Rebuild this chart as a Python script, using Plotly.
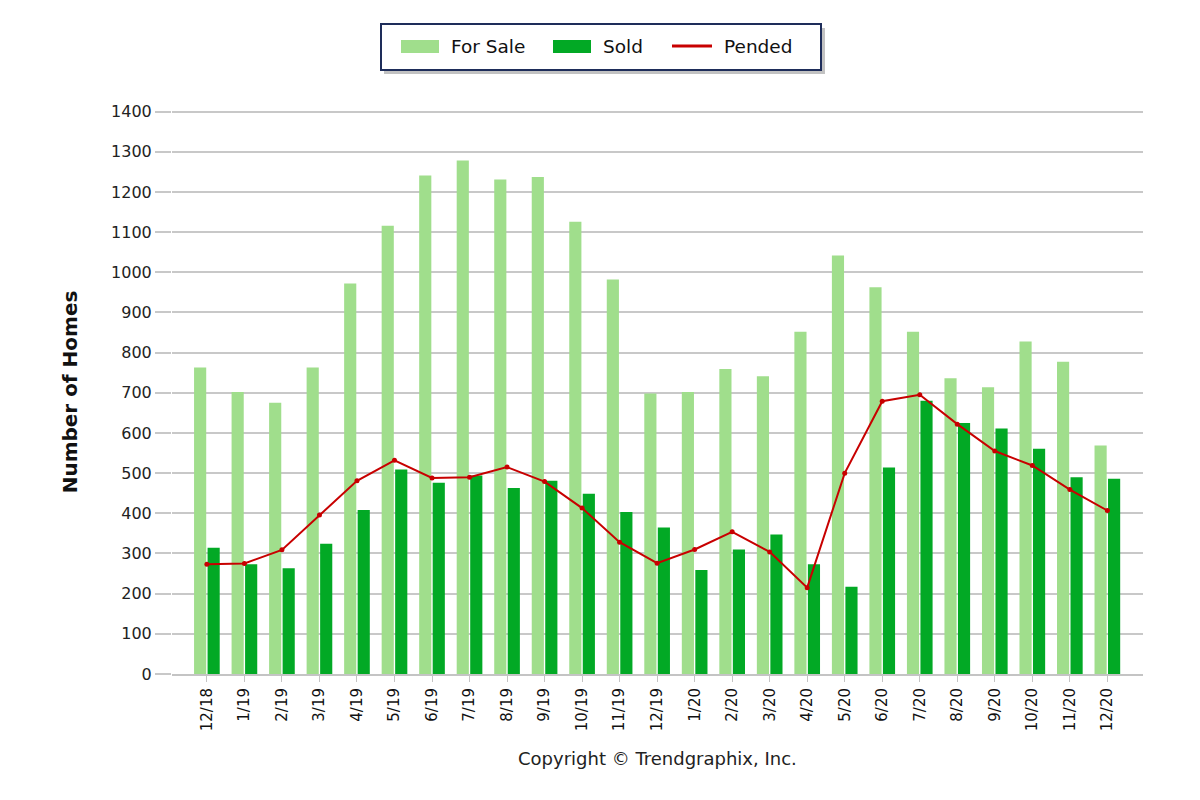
import plotly.graph_objects as go

months = ["12/18", "1/19", "2/19", "3/19", "4/19", "5/19", "6/19", "7/19", "8/19", "9/19",
          "10/19", "11/19", "12/19", "1/20", "2/20", "3/20", "4/20", "5/20", "6/20", "7/20",
          "8/20", "9/20", "10/20", "11/20", "12/20"]
for_sale = [763, 702, 675, 763, 972, 1116, 1241, 1278, 1231, 1237,
            1126, 982, 698, 702, 759, 741, 852, 1042, 963, 852,
            736, 714, 828, 777, 569]
sold = [314, 273, 263, 324, 408, 509, 476, 494, 463, 481,
        449, 403, 365, 259, 310, 347, 273, 217, 514, 680,
        625, 611, 561, 490, 486]
pended = [273, 275, 309, 396, 481, 532, 488, 490, 515, 479,
          413, 328, 276, 310, 354, 304, 215, 500, 679, 695,
          622, 555, 519, 459, 407]
y_ticks = list(range(0, 1401, 100))
series_names = ["For Sale", "Sold", "Pended"]

FONT = "DejaVu Sans"
C_SALE = "#A0DE8C"
C_SOLD = "#02A925"
C_PEND = "#C80000"

# plot-area geometry (screen px) used to place the custom legend
PL, PR, PT, PB = 172, 1143, 110, 674
YMAX = 1404
def px(x):
    return (x - PL) / (PR - PL)
def py(y):
    return (PB - y) / (PB - PT)

fig = go.Figure()
fig.add_trace(go.Bar(x=months, y=for_sale, name=series_names[0],
                     marker=dict(color=C_SALE, line=dict(width=0))))
fig.add_trace(go.Bar(x=months, y=sold, name=series_names[1],
                     marker=dict(color=C_SOLD, line=dict(width=0))))
fig.add_trace(go.Scatter(x=months, y=pended, name=series_names[2], mode="lines+markers",
                         line=dict(color=C_PEND, width=2),
                         marker=dict(color=C_PEND, size=5)))

shapes = [
    # legend shadow
    dict(type="rect", xref="paper", yref="paper", x0=px(384), x1=px(825), y0=py(28), y1=py(74),
         fillcolor="#9A9A9A", line=dict(width=0), layer="above", opacity=0.6),
    # legend box
    dict(type="rect", xref="paper", yref="paper", x0=px(381), x1=px(821), y0=py(24), y1=py(70),
         fillcolor="white", line=dict(color="#1E2D5A", width=2), layer="above"),
    dict(type="rect", xref="paper", yref="paper", x0=px(401), x1=px(439), y0=py(40), y1=py(53),
         fillcolor=C_SALE, line=dict(width=0), layer="above"),
    dict(type="rect", xref="paper", yref="paper", x0=px(553), x1=px(591), y0=py(40), y1=py(53),
         fillcolor=C_SOLD, line=dict(width=0), layer="above"),
    dict(type="line", xref="paper", yref="paper", x0=px(672), x1=px(712), y0=py(46), y1=py(46),
         line=dict(color=C_PEND, width=3), layer="above"),
]
legend_text = [(449, series_names[0]), (601, series_names[1]), (722, series_names[2])]
annotations = [dict(text=t, xref="paper", yref="paper", x=px(x0), y=py(46.5),
                    xanchor="left", yanchor="middle", showarrow=False,
                    font=dict(family=FONT, size=18.5, color="#111111"))
               for x0, t in legend_text]
annotations.append(dict(text="Copyright © Trendgraphix, Inc.", xref="paper", yref="paper",
                        x=0.5, y=py(758), xanchor="center", yanchor="middle", showarrow=False,
                        font=dict(family=FONT, size=18, color="#222222")))

fig.update_layout(
    width=1200, height=800,
    margin=dict(l=PL - 8, r=1200 - PR + 8, t=PT - 8, b=800 - PB + 8),
    paper_bgcolor="white", plot_bgcolor="white",
    barmode="group", bargap=0.28, bargroupgap=0.1,
    font=dict(family=FONT, color="#222222", size=16),
    showlegend=False,
    xaxis=dict(type="category", range=[-0.93, 24.95],
               tickangle=-90, tickfont=dict(family=FONT, size=15, color="#111111"),
               showgrid=False, showline=True, linecolor="#C4C4C4", linewidth=2,
               ticks="outside", ticklen=6, tickcolor="#C4C4C4", tickwidth=1,
               zeroline=False),
    yaxis=dict(range=[0, YMAX], tickvals=y_ticks,
               tickfont=dict(family=FONT, size=16, color="#222222"),
               showgrid=True, gridcolor="#C8C8C8", gridwidth=2,
               ticks="outside", ticklen=16, tickcolor="#C8C8C8", tickwidth=2,
               showline=False, zeroline=False,
               title=dict(text="<b>Number of Homes</b>",
                          font=dict(family=FONT, size=20, color="#111111"),
                          standoff=28)),
    shapes=shapes,
    annotations=annotations,
)

fig.write_html("out.html")
